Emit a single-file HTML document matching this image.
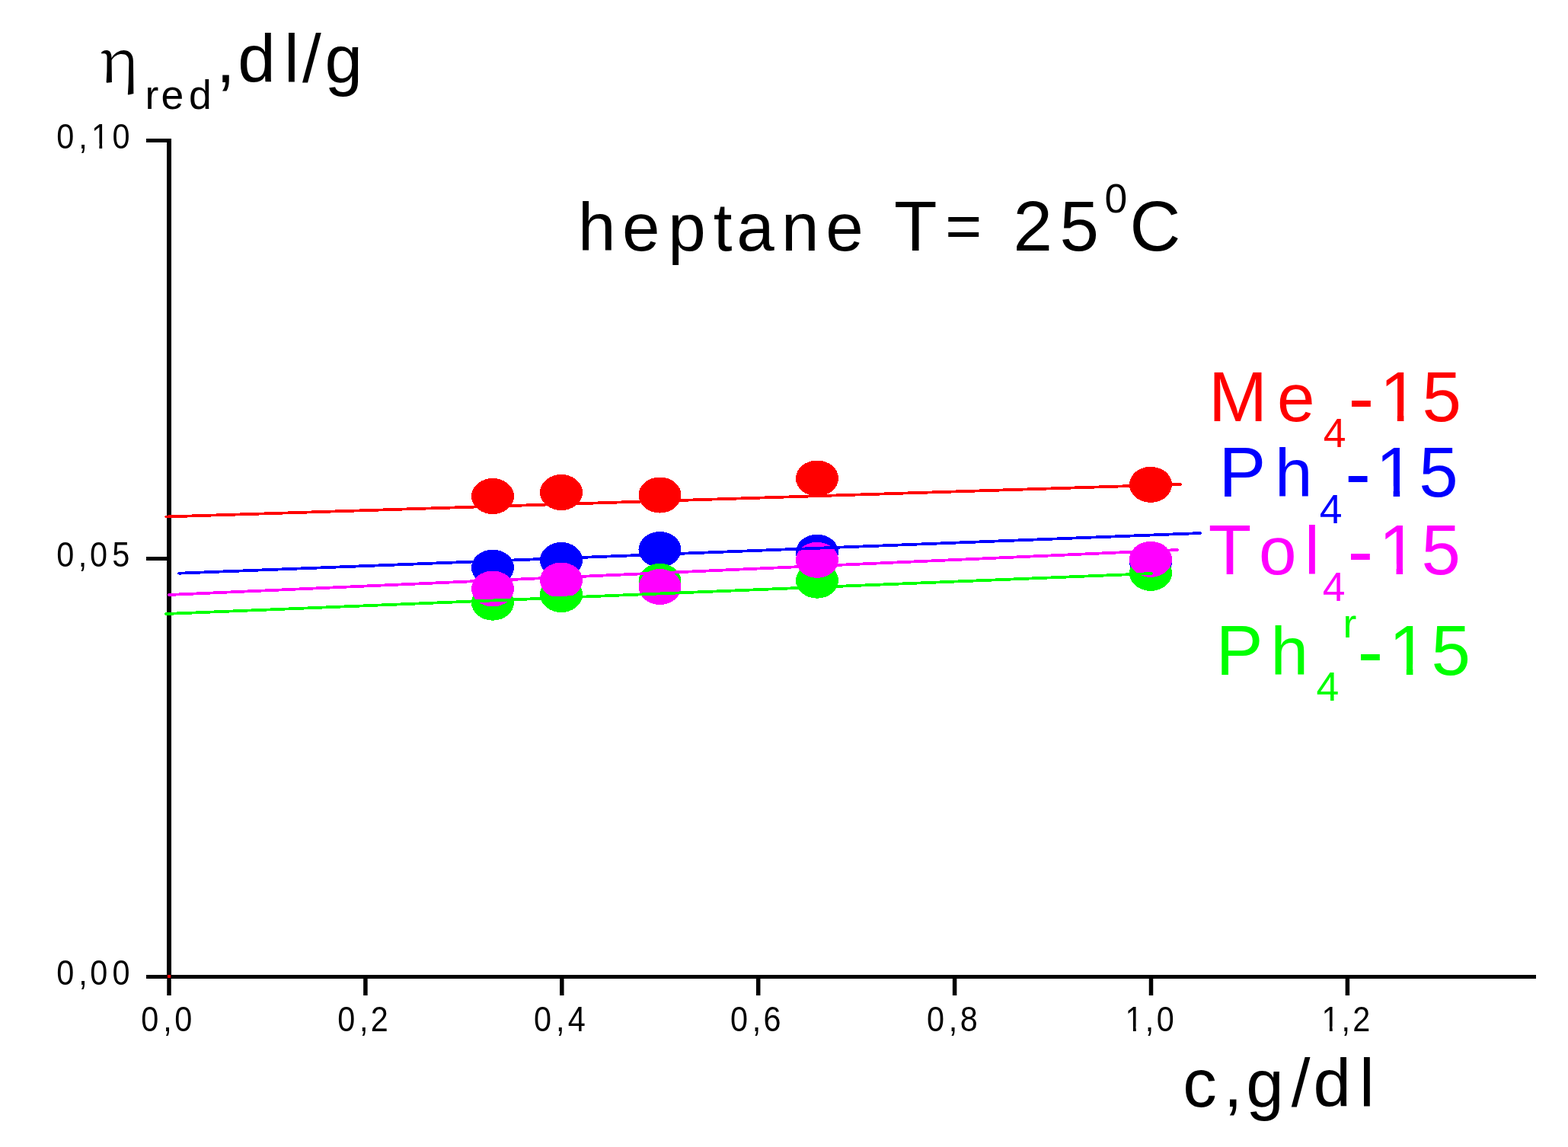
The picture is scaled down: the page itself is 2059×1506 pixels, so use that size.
<!DOCTYPE html>
<html><head><meta charset="utf-8"><title>heptane T= 25 C viscosity plot</title><style>html,body{margin:0;padding:0;background:#fff;overflow:hidden}svg{display:block}svg{font-family:"Liberation Sans",Arial,sans-serif}</style></head><body>
<svg width="2059" height="1506" viewBox="0 0 2059 1506" font-family="Liberation Sans, Arial, sans-serif" fill="#000"><rect width="2059" height="1506" fill="#fff"/><rect x="219" y="182" width="6" height="1103" fill="#000"/>
<rect x="219" y="1280" width="1798" height="5" fill="#000"/>
<rect x="192" y="182.0" width="28" height="5" fill="#000"/>
<rect x="192" y="731.0" width="28" height="5" fill="#000"/>
<rect x="192" y="1280.0" width="28" height="5" fill="#000"/>
<rect x="219.25" y="1282" width="5.5" height="25" fill="#000"/>
<rect x="477.15" y="1282" width="5.5" height="25" fill="#000"/>
<rect x="735.05" y="1282" width="5.5" height="25" fill="#000"/>
<rect x="992.95" y="1282" width="5.5" height="25" fill="#000"/>
<rect x="1250.85" y="1282" width="5.5" height="25" fill="#000"/>
<rect x="1508.75" y="1282" width="5.5" height="25" fill="#000"/>
<rect x="1766.65" y="1282" width="5.5" height="25" fill="#000"/>
<rect x="220" y="1280" width="4" height="4" fill="#f00"/>
<ellipse shape-rendering="crispEdges" cx="647" cy="651.5" rx="28" ry="23.5" fill="#ff0000"/><ellipse shape-rendering="crispEdges" cx="737" cy="646.5" rx="28" ry="23.5" fill="#ff0000"/><ellipse shape-rendering="crispEdges" cx="866.5" cy="650" rx="28" ry="23.5" fill="#ff0000"/><ellipse shape-rendering="crispEdges" cx="1073" cy="628" rx="28" ry="23.5" fill="#ff0000"/><ellipse shape-rendering="crispEdges" cx="1511" cy="636.3" rx="28" ry="23.5" fill="#ff0000"/>
<ellipse shape-rendering="crispEdges" cx="647" cy="745.2" rx="28" ry="23.5" fill="#0000ff"/><ellipse shape-rendering="crispEdges" cx="737" cy="735.5" rx="28" ry="23.5" fill="#0000ff"/><ellipse shape-rendering="crispEdges" cx="866.5" cy="721.5" rx="28" ry="23.5" fill="#0000ff"/><ellipse shape-rendering="crispEdges" cx="1073" cy="725.2" rx="28" ry="23.5" fill="#0000ff"/><ellipse shape-rendering="crispEdges" cx="1511" cy="738" rx="28" ry="23.5" fill="#0000ff"/>
<ellipse shape-rendering="crispEdges" cx="647" cy="791.2" rx="28" ry="23.5" fill="#00ff00"/><ellipse shape-rendering="crispEdges" cx="737" cy="780.5" rx="28" ry="23.5" fill="#00ff00"/><ellipse shape-rendering="crispEdges" cx="866.5" cy="763.3" rx="28" ry="23.5" fill="#00ff00"/><ellipse shape-rendering="crispEdges" cx="1073" cy="762.2" rx="28" ry="23.5" fill="#00ff00"/><ellipse shape-rendering="crispEdges" cx="1511" cy="752.4" rx="28" ry="23.5" fill="#00ff00"/>
<ellipse shape-rendering="crispEdges" cx="647" cy="773" rx="28" ry="23.5" fill="#ff00ff"/><ellipse shape-rendering="crispEdges" cx="737" cy="762" rx="28" ry="23.5" fill="#ff00ff"/><ellipse shape-rendering="crispEdges" cx="866.5" cy="770.5" rx="28" ry="23.5" fill="#ff00ff"/><ellipse shape-rendering="crispEdges" cx="1073" cy="735.3" rx="28" ry="23.5" fill="#ff00ff"/><ellipse shape-rendering="crispEdges" cx="1511" cy="734.4" rx="28" ry="23.5" fill="#ff00ff"/>
<line shape-rendering="crispEdges" x1="218.1" y1="678.5" x2="1549.8" y2="636" stroke="#ff0000" stroke-width="3.8" stroke-linecap="round"/>
<line shape-rendering="crispEdges" x1="235.1" y1="752.7" x2="1576.1" y2="700" stroke="#0000ff" stroke-width="3.8" stroke-linecap="round"/>
<line shape-rendering="crispEdges" x1="222.2" y1="781" x2="1546.1" y2="722" stroke="#ff00ff" stroke-width="3.8" stroke-linecap="round"/>
<line shape-rendering="crispEdges" x1="218.1" y1="806" x2="1512.1" y2="753" stroke="#00ff00" stroke-width="3.8" stroke-linecap="round"/>
<g transform="translate(133 0) scale(1.09 1)"><text style="font-family:'Noto Serif CJK SC','Noto Serif CJK JP','Liberation Serif',serif" font-size="79.5" x="-2.46" y="108">η</text></g>
<text font-size="89"><tspan x="190.4 211.6 247.9" y="142.8" font-size="53.5" style="font-family:'Liberation Sans',sans-serif">red</tspan><tspan x="283.9 312.2 372.9 397 426.4" y="108" font-size="89" style="font-family:'Liberation Sans',sans-serif">,dl/g</tspan></text>
<text font-size="89"><tspan x="759 817.1 877.3 936.7 967.2 1026.1 1084.2 1140" y="328.8" font-size="89">heptane </tspan><tspan x="1173.9" y="328.8" font-size="92.5">T</tspan><tspan x="1241.2" y="324.5" font-size="82.2">=</tspan><tspan x="1300" y="328.8" font-size="89"> </tspan><tspan x="1330.4 1391.4" y="328.8" font-size="92.5">25</tspan><tspan x="1450.6" y="279.4" font-size="53.5">0</tspan><tspan x="1483.4" y="328.8" font-size="92.5">C</tspan></text>
<text font-size="89" fill="#ff0000"><tspan x="1587" y="553" font-size="92.5">M</tspan><tspan x="1676.9" y="553" font-size="89">e</tspan><tspan x="1737.7" y="586.6" font-size="53.5">4</tspan><tspan x="1770.4" y="556.9" font-size="101.6">-</tspan><tspan x="1811.8 1867.4" y="553" font-size="92.5">15</tspan></text>
<text font-size="89" fill="#0000ff"><tspan x="1600.5" y="651.8" font-size="92.5">P</tspan><tspan x="1674" y="651.8" font-size="89">h</tspan><tspan x="1732.7" y="686.9" font-size="53.5">4</tspan><tspan x="1766.3" y="655.7" font-size="101.6">-</tspan><tspan x="1806.6 1863.2" y="651.8" font-size="92.5">15</tspan></text>
<text font-size="89" fill="#ff00ff"><tspan x="1586.8" y="754" font-size="92.5">T</tspan><tspan x="1653 1713.1" y="754" font-size="89">ol</tspan><tspan x="1736.8" y="789" font-size="53.5">4</tspan><tspan x="1769.5" y="757.9" font-size="101.6">-</tspan><tspan x="1810.5 1866.6" y="754" font-size="92.5">15</tspan></text>
<text font-size="89" fill="#00ff00"><tspan x="1596.8" y="886" font-size="92.5">P</tspan><tspan x="1668.6" y="886" font-size="89">h</tspan><tspan x="1728.4" y="920" font-size="53.5">4</tspan><tspan x="1763.5" y="837" font-size="53.5">r</tspan><tspan x="1782.4" y="889.9" font-size="101.6">-</tspan><tspan x="1823.8 1879.4" y="886" font-size="92.5">15</tspan></text>
<text font-size="89"><tspan x="1553.2 1606.8 1636.3 1695.7 1724.6 1784.9" y="1452.7">c,g/dl</tspan></text>
<text font-size="46" transform="scale(0.9 1)"><tspan x="82.6 114.6 133.4 163.8" y="195.1" font-size="46">0,10</tspan></text>
<text font-size="46" transform="scale(0.9 1)"><tspan x="82.6 114.3 131.2 163.6" y="744" font-size="46">0,05</tspan></text>
<text font-size="46" transform="scale(0.9 1)"><tspan x="82.6 114.8 131.3 163.8" y="1293" font-size="46">0,00</tspan></text>
<text font-size="46" transform="scale(0.9 1)"><tspan x="205.9 238 254.8" y="1354.3" font-size="46">0,0</tspan></text>
<text font-size="46" transform="scale(0.9 1)"><tspan x="492.4 524.5 540.8" y="1354.3" font-size="46">0,2</tspan></text>
<text font-size="46" transform="scale(0.9 1)"><tspan x="779 811.1 828.6" y="1354.3" font-size="46">0,4</tspan></text>
<text font-size="46" transform="scale(0.9 1)"><tspan x="1065.5 1097.6 1113.9" y="1354.3" font-size="46">0,6</tspan></text>
<text font-size="46" transform="scale(0.9 1)"><tspan x="1352.1 1384.2 1400.8" y="1354.3" font-size="46">0,8</tspan></text>
<text font-size="46" transform="scale(0.9 1)"><tspan x="1641.8 1670.8 1687.5" y="1354.3" font-size="46">1,0</tspan></text>
<text font-size="46" transform="scale(0.9 1)"><tspan x="1928.4 1957.3 1973.6" y="1354.3" font-size="46">1,2</tspan></text>
<rect x="1813.57" y="539.45" width="21.27" height="15.55" fill="#fff"/>
<rect x="1843.38" y="539.45" width="18.97" height="15.55" fill="#fff"/>
<rect x="1808.37" y="638.25" width="21.27" height="15.55" fill="#fff"/>
<rect x="1838.18" y="638.25" width="18.97" height="15.55" fill="#fff"/>
<rect x="1812.27" y="740.45" width="21.27" height="15.55" fill="#fff"/>
<rect x="1842.08" y="740.45" width="18.97" height="15.55" fill="#fff"/>
<rect x="1825.57" y="872.45" width="21.27" height="15.55" fill="#fff"/>
<rect x="1855.38" y="872.45" width="18.97" height="15.55" fill="#fff"/>
<rect x="134.27" y="188.36" width="10.58" height="8.74" fill="#fff" transform="scale(0.9 1)"/>
<rect x="149.09" y="188.36" width="9.43" height="8.74" fill="#fff" transform="scale(0.9 1)"/>
<rect x="1642.71" y="1347.56" width="10.58" height="8.74" fill="#fff" transform="scale(0.9 1)"/>
<rect x="1657.53" y="1347.56" width="9.43" height="8.74" fill="#fff" transform="scale(0.9 1)"/>
<rect x="1929.27" y="1347.56" width="10.58" height="8.74" fill="#fff" transform="scale(0.9 1)"/>
<rect x="1944.09" y="1347.56" width="9.43" height="8.74" fill="#fff" transform="scale(0.9 1)"/></svg>
</body></html>
